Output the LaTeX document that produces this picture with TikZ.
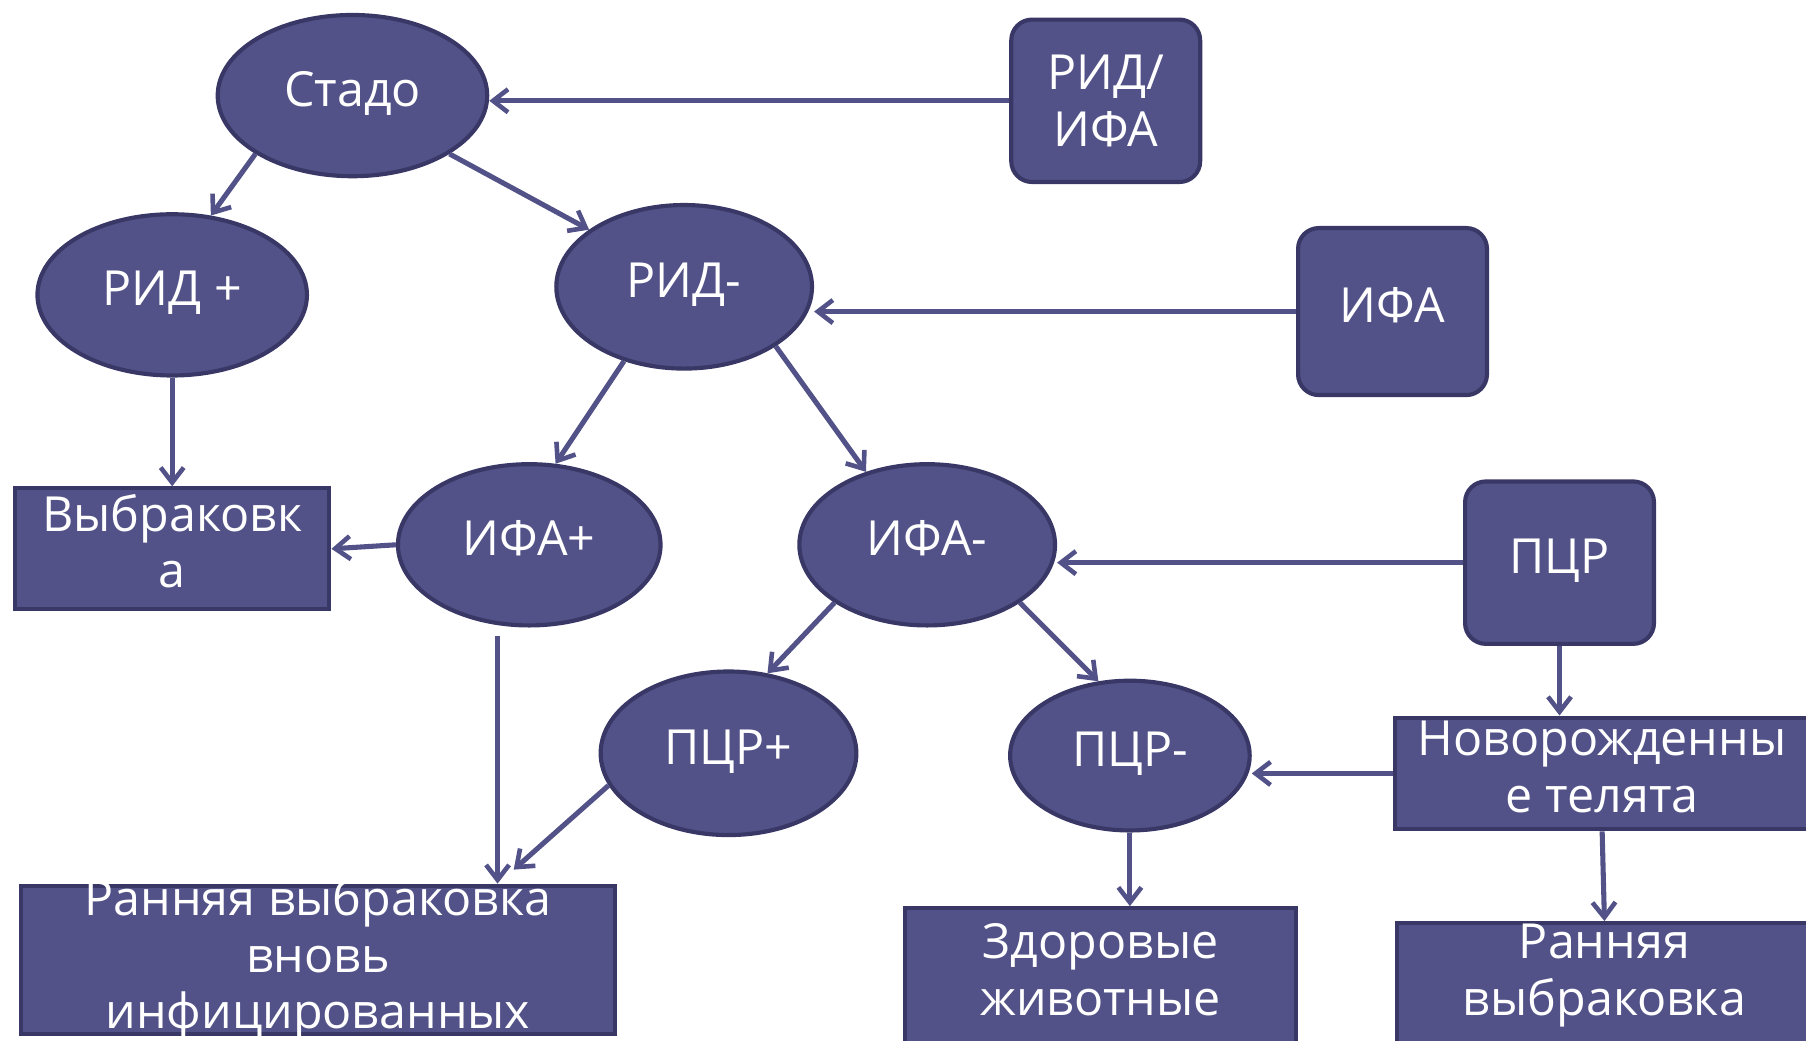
\documentclass[tikz,border=0pt]{standalone}
\usepackage{fontspec}
\setmainfont{Open Sans}
\usetikzlibrary{shapes.geometric,arrows.meta}
\definecolor{nodefill}{RGB}{82,82,136}
\definecolor{nodeline}{RGB}{56,55,102}
\tikzset{
  solo/.style={text height=31pt, text depth=12pt},
  oval/.style={ellipse, draw=nodeline, fill=nodefill, line width=3.6pt, inner sep=0pt, text=white, solo},
  tile/.style={rectangle, rounded corners=18pt, draw=nodeline, fill=nodefill, line width=3.6pt, inner sep=0pt, text=white, align=center},
  box/.style={rectangle, draw=nodeline, fill=nodefill, line width=3.6pt, inner sep=0pt},
  boxtext/.style={inner sep=0pt, text=white, align=center},
  arr/.style={-{Straight Barb[length=13pt,width=20pt,line width=4pt]}, draw=nodefill, line width=4.4pt},
}
\begin{document}
\begin{tikzpicture}[x=1pt, y=-1pt, font=\fontsize{42}{49}\selectfont]
      \useasboundingbox (0,0) rectangle (1568,903);
      \clip (0,0) rectangle (1568,903);

      \node[oval, minimum width=234pt, minimum height=140pt] (herd) at (306,83) {Стадо};
      \node[oval, minimum width=234pt, minimum height=140pt] (ridPos) at (149.5,256) {РИД +};
      \node[oval, minimum width=222pt, minimum height=142pt] (ridNeg) at (594,249) {РИД-};
      \node[oval, minimum width=228pt, minimum height=140pt] (ifaPos) at (459.5,473) {ИФА+};
      \node[oval, minimum width=222pt, minimum height=140pt] (ifaNeg) at (805,473) {ИФА-};
      \node[oval, minimum width=222pt, minimum height=142pt] (pcrPos) at (632.5,654) {ПЦР+};
      \node[oval, minimum width=208pt, minimum height=130pt] (pcrNeg) at (981,656) {ПЦР-};

      \node[tile, minimum width=164pt, minimum height=141pt] (ridifa) at (960,87.5) {РИД/\\ИФА};
      \node[tile, solo, minimum width=164pt, minimum height=145pt] (ifa) at (1209,270.5) {ИФА};
      \node[tile, solo, minimum width=164pt, minimum height=141pt] (pcr) at (1354,488.5) {ПЦР};

      \node[box, minimum width=273pt, minimum height=105pt] (cull) at (149.5,476.5) {};
      \node[boxtext] (cullText) at (149.5,470) {Выбраковк\\а};
      \node[box, minimum width=516pt, minimum height=129pt] (early) at (276,833.5) {};
      \node[boxtext] (earlyText) at (276,833) {Ранняя выбраковка\\вновь\\инфицированных};
      \node[box, minimum width=339pt, minimum height=150pt] (healthy) at (955.5,863.5) {};
      \node[boxtext] (healthyText) at (955.5,842) {Здоровые\\животные};
      \node[box, minimum width=360pt, minimum height=97pt] (newborn) at (1391,671.5) {};
      \node[boxtext] (newbornText) at (1391,666) {Новорожденны\\е телята};
      \node[box, minimum width=360pt, minimum height=137pt] (early2) at (1393,870) {};
      \node[boxtext] (early2Text) at (1393,847) {Ранняя\\выбраковка};

      \coordinate (ifaPosGap) at (432,552);
      \coordinate (earlyTip) at (446,755);

      \draw[arr] (ridifa.west) -- (ridifa.west -| herd.east);
      \draw[arr] (herd.211) -- (ridPos.64);
      \draw[arr] (herd.329) -- (ridNeg.149);
      \draw[arr] (ifa.west) -- (ifa.west -| ridNeg.east);
      \draw[arr] (ridPos.south) -- (cull.north);
      \draw[arr] (ridNeg.231) -- (ifaPos.72);
      \draw[arr] (ridNeg.327) -- (ifaNeg.130);
      \draw[arr] (ifaPos.west) -- (cull.east);
      \draw[arr] (pcr.west) -- (pcr.west -| ifaNeg.east);
      \draw[arr] (ifaNeg.212) -- (pcrPos.64);
      \draw[arr] (ifaNeg.328) -- (pcrNeg.113);
      \draw[arr] (ifaPosGap) -- (ifaPosGap |- early.north);
      \draw[arr] (pcrPos.195) -- (earlyTip);
      \draw[arr] (pcr.south) -- (pcr.south |- newborn.north);
      \draw[arr] (newborn.west) -- (newborn.west -| pcrNeg.east);
      \draw[arr] (pcrNeg.south) -- (pcrNeg.south |- healthy.north);
      \draw[arr] (newborn.south) -- (early2.north);
    \end{tikzpicture}
\end{document}
